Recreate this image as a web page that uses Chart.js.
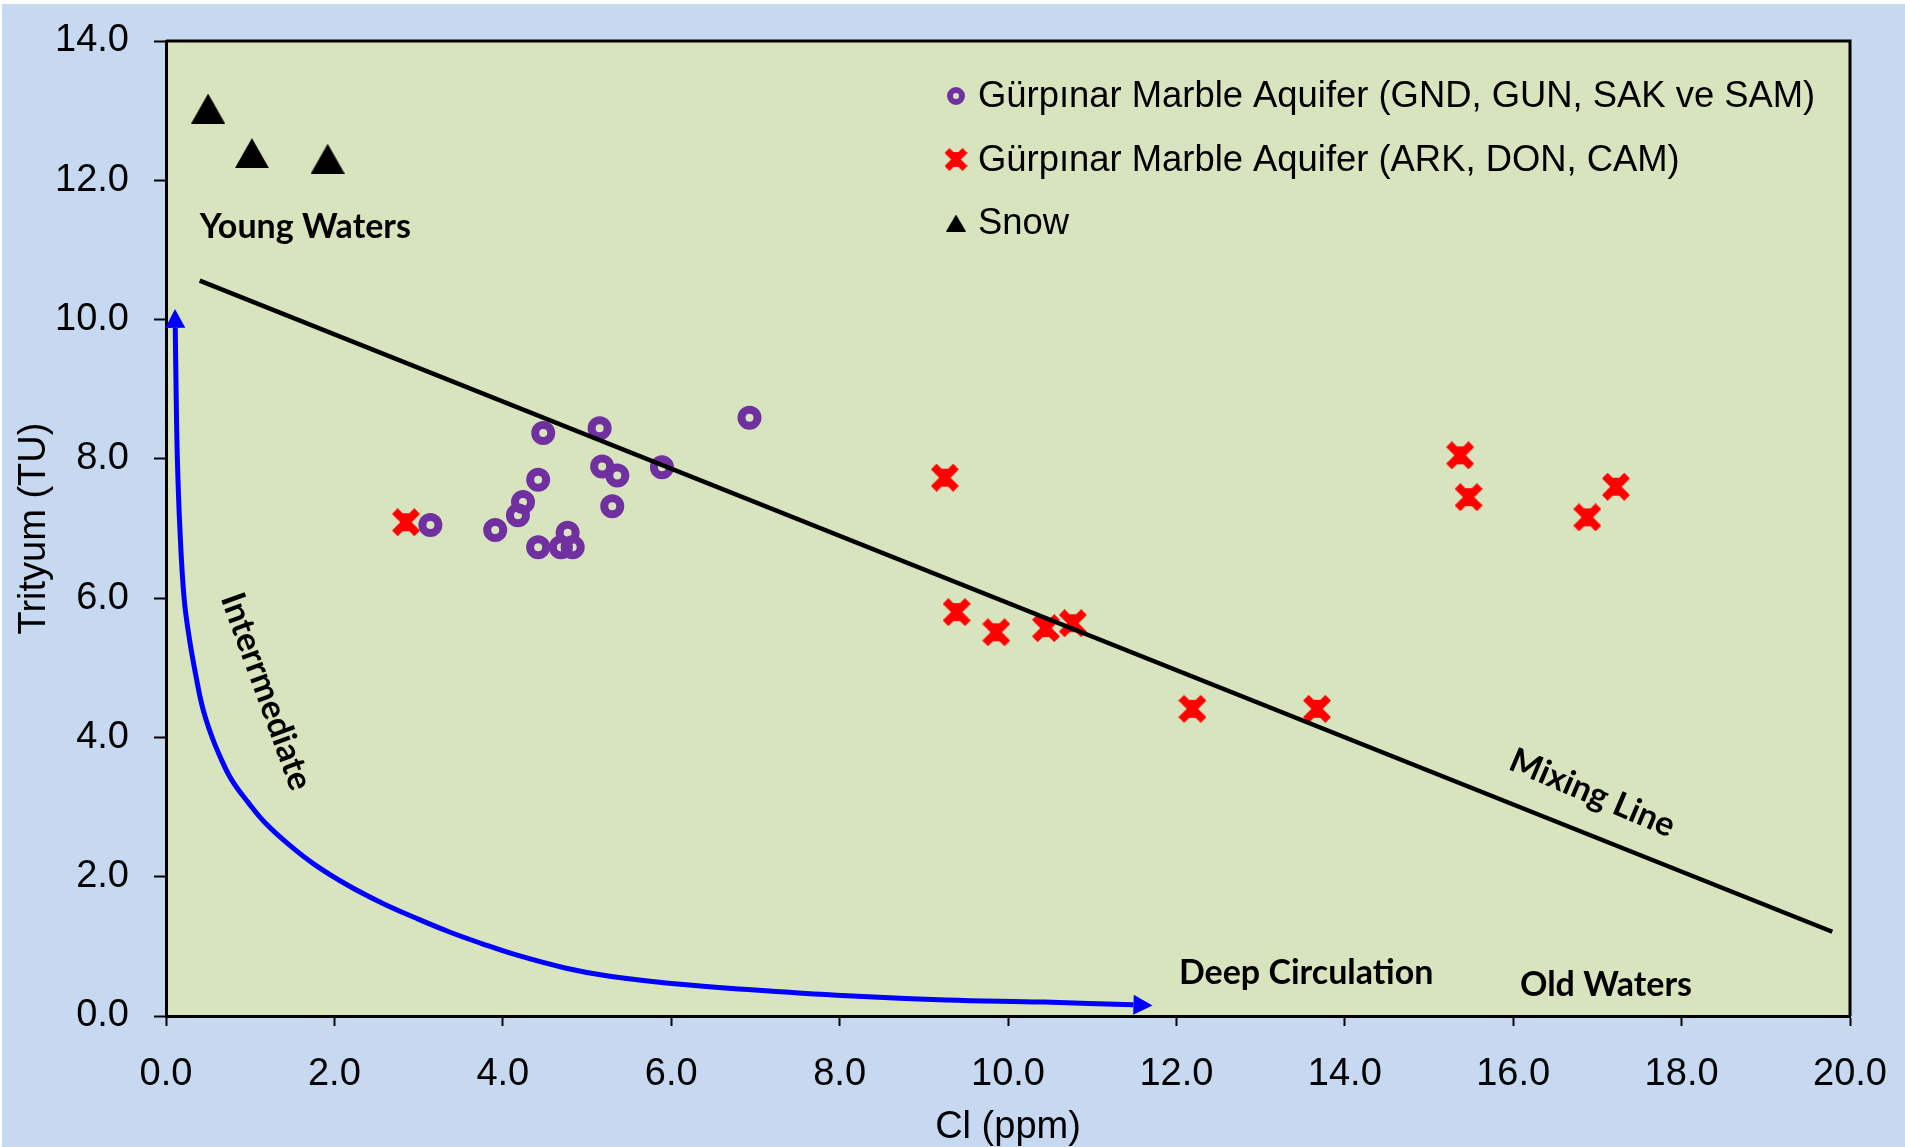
<!DOCTYPE html>
<html>
<head>
<meta charset="utf-8">
<script src="https://cdn.jsdelivr.net/npm/chart.js@4.4.0/dist/chart.umd.min.js"></script>
<style>
  html,body{margin:0;padding:0;background:#fff;overflow:hidden;}
  #wrap{width:1905px;height:1147px;}
  canvas{display:block;}
</style>
</head>
<body>
<div id="wrap"><canvas id="chart" width="1905" height="1147"></canvas></div>
<script>
// values (Cl ppm / Tritium TU)
const gndCl  = [3.14, 3.91, 4.42, 4.18, 4.24, 4.42, 4.48, 4.77, 4.69, 4.83, 5.15, 5.18, 5.36, 5.30, 5.89, 6.93];
const gndTU  = [7.05, 6.98, 6.73, 7.19, 7.38, 7.70, 8.37, 6.94, 6.73, 6.73, 8.44, 7.89, 7.76, 7.32, 7.88, 8.59];
const arkCl  = [2.85, 9.25, 15.37, 15.47, 17.22, 16.88, 9.39, 9.86, 10.45, 10.77, 12.19, 13.67];
const arkTU  = [7.09, 7.73, 8.05, 7.45, 7.60, 7.16, 5.80, 5.51, 5.57, 5.64, 4.41, 4.41];
const snowCl = [0.50, 1.02, 1.92];
const snowTU = [13.03, 12.39, 12.31];
const mixCl  = [0.40, 19.79];
const mixTU  = [10.56, 1.21];
// hand-drawn flow curve (Intermediate -> Deep Circulation)
const curveCl = [0.11, 0.12, 0.135, 0.165, 0.215, 0.28, 0.35, 0.43, 0.53, 0.64, 0.78, 0.98, 1.18, 1.46,
                 1.77, 2.17, 2.57, 2.96, 3.36, 3.75, 4.15, 4.74, 5.27, 5.97, 6.91, 8.09, 9.26, 10.43, 11.49];
const curveTU = [9.88, 8.99, 8.00, 7.00, 6.00, 5.40, 4.92, 4.45, 4.06, 3.73, 3.39, 3.06, 2.77, 2.46,
                 2.17, 1.87, 1.62, 1.41, 1.21, 1.04, 0.88, 0.69, 0.57, 0.47, 0.38, 0.29, 0.23, 0.20, 0.16];
const legendLabels = ['Gürpınar Marble Aquifer (GND, GUN, SAK ve SAM)', 'Gürpınar Marble Aquifer (ARK, DON, CAM)', 'Snow'];
const xTicks = [0, 2, 4, 6, 8, 10, 12, 14, 16, 18, 20];
const yTicks = [0, 2, 4, 6, 8, 10, 12, 14];

// text notes placed in data units
const noteText  = ['Young Waters', 'Deep Circulation', 'Old Waters', 'Mixing Line', 'Interrmediate'];
const noteCl    = [0.40, 12.03, 16.08, 16.94, 1.19];
const noteTU    = [11.33, 0.62, 0.45, 3.20, 4.66];
const noteAngle = [0, 0, 0, 23, 70];
const noteAlign = ['left', 'left', 'left', 'center', 'center'];

const PURPLE = '#7030A0', RED = '#FF0000', BLUE = '#0000FF';
const AXIS_FONT = "'Liberation Sans', Arial, sans-serif";

function pts(xs, ys){ return xs.map((x,i)=>({x:x, y:ys[i]})); }

function makeCross(s, lw){
  const c = document.createElement('canvas'); c.width = s; c.height = s;
  const g = c.getContext('2d');
  const m = lw*0.36;
  g.strokeStyle = RED; g.lineWidth = lw;
  g.beginPath(); g.moveTo(m,m); g.lineTo(s-m,s-m); g.moveTo(s-m,m); g.lineTo(m,s-m); g.stroke();
  g.fillStyle = RED; g.fillRect(s/2-lw/2, s*0.18, lw, s*0.64);
  return c;
}
function makeTri(w, h){
  const c = document.createElement('canvas'); c.width = w; c.height = h;
  const g = c.getContext('2d');
  g.fillStyle = '#000';
  g.beginPath(); g.moveTo(w/2,0); g.lineTo(w,h); g.lineTo(0,h); g.closePath(); g.fill();
  return c;
}
const crossBig = makeCross(28, 8), crossSmall = makeCross(23, 7);
const triBig = makeTri(34, 30), triSmall = makeTri(20, 17);

const bgPlugin = {
  id: 'bg',
  beforeDraw(chart){
    const {ctx, chartArea:a} = chart;
    ctx.save();
    ctx.fillStyle = '#C6D9F1';
    ctx.fillRect(2, 4, chart.width-2, chart.height-4);
    ctx.fillStyle = '#D7E4BD';
    ctx.fillRect(a.left, a.top, a.right-a.left, a.bottom-a.top);
    ctx.restore();
  },
  beforeDatasetsDraw(chart){
    const {ctx, chartArea:a} = chart;
    ctx.save();
    ctx.strokeStyle = '#000'; ctx.lineWidth = 3;
    ctx.beginPath();
    ctx.moveTo(a.left, a.top); ctx.lineTo(a.right, a.top); ctx.lineTo(a.right, a.bottom);
    ctx.stroke();
    ctx.restore();
  }
};

function arrowHead(ctx, tipFrom, from, len, half){
  const dx = tipFrom.x - from.x, dy = tipFrom.y - from.y;
  const d = Math.hypot(dx, dy); const ux = dx/d, uy = dy/d;
  const tx = tipFrom.x + ux*len, ty = tipFrom.y + uy*len;
  ctx.beginPath();
  ctx.moveTo(tx, ty);
  ctx.lineTo(tipFrom.x - uy*half, tipFrom.y + ux*half);
  ctx.lineTo(tipFrom.x + uy*half, tipFrom.y - ux*half);
  ctx.closePath(); ctx.fill();
}

const notesPlugin = {
  id: 'notes',
  afterDatasetsDraw(chart){
    const {ctx} = chart;
    const xs = chart.scales.x, ys = chart.scales.y;
    // arrow heads on the blue curve
    const meta = chart.getDatasetMeta(4).data;
    ctx.save();
    ctx.fillStyle = BLUE;
    arrowHead(ctx, meta[0], meta[1], 19, 10);
    arrowHead(ctx, meta[meta.length-1], meta[meta.length-2], 19, 10);
    ctx.restore();

    ctx.save();
    ctx.fillStyle = '#000';
    ctx.font = "bold 34px Lato, 'Open Sans', sans-serif";
    ctx.textBaseline = 'middle';
    noteText.forEach((t,i)=>{
      ctx.save();
      ctx.translate(xs.getPixelForValue(noteCl[i]), ys.getPixelForValue(noteTU[i]));
      ctx.rotate(noteAngle[i]*Math.PI/180);
      ctx.textAlign = noteAlign[i];
      ctx.fillText(t, 0, 0);
      ctx.restore();
    });
    ctx.restore();
  },
  afterDraw(chart){
    // legend, inside the plot at the top right
    const {ctx} = chart;
    const x0 = 956, y0 = 96, step = 63.5;
    ctx.save();
    ctx.font = '36.4px ' + AXIS_FONT;
    ctx.fillStyle = '#000'; ctx.textBaseline = 'middle'; ctx.textAlign = 'left';
    legendLabels.forEach((lab,i)=>{
      const y = y0 + i*step;
      if(i===0){
        ctx.beginPath(); ctx.arc(x0, y, 6, 0, Math.PI*2);
        ctx.strokeStyle = PURPLE; ctx.lineWidth = 6; ctx.stroke();
      } else if(i===1){
        ctx.drawImage(crossSmall, x0-crossSmall.width/2, y-crossSmall.height/2);
      } else {
        ctx.drawImage(triSmall, x0-triSmall.width/2, y-triSmall.height/2);
      }
      ctx.fillText(lab, x0+22, y+1);
    });
    ctx.restore();
  }
};

new Chart(document.getElementById('chart'), {
  type: 'scatter',
  data: {
    datasets: [
      { label: 'Mixing Line', type: 'line', data: pts(mixCl, mixTU), borderColor: '#000', borderWidth: 4.5, pointRadius: 0, fill: false },
      { label: legendLabels[0], data: pts(gndCl, gndTU), pointStyle: 'circle', pointRadius: 8, pointBorderWidth: 8,
        pointBorderColor: PURPLE, pointBackgroundColor: 'rgba(0,0,0,0)', borderColor: PURPLE },
      { label: legendLabels[1], data: pts(arkCl, arkTU), pointStyle: crossBig, pointRadius: 14 },
      { label: legendLabels[2], data: pts(snowCl, snowTU), pointStyle: triBig, pointRadius: 17 },
      { label: 'curve', type: 'line', data: pts(curveCl, curveTU), borderColor: BLUE, borderWidth: 5, pointRadius: 0,
        tension: 0.4, fill: false, borderCapStyle: 'butt' }
    ]
  },
  options: {
    responsive: false,
    animation: false,
    events: [],
    layout: { padding: { top: 41, right: 55, left: 0, bottom: 0 } },
    plugins: { legend: { display: false }, tooltip: { enabled: false } },
    scales: {
      x: {
        type: 'linear', min: 0, max: 20,
        afterBuildTicks: s => { s.ticks = xTicks.map(v=>({value:v})); },
        afterFit: s => { s.height = 131; s.paddingLeft = 0; s.paddingRight = 0; },
        ticks: { callback: v => v.toFixed(1), color: '#000', padding: 26, maxRotation: 0, autoSkip: false,
                 font: { family: AXIS_FONT, size: 38 } },
        grid: { drawOnChartArea: false, drawTicks: true, tickLength: 10, tickColor: '#000', tickWidth: 2 },
        border: { display: true, color: '#000', width: 3 },
        title: { display: true, text: 'Cl (ppm)', color: '#000', padding: { top: 0, bottom: -3 },
                 font: { family: AXIS_FONT, size: 38 } }
      },
      y: {
        type: 'linear', min: 0, max: 14,
        afterBuildTicks: s => { s.ticks = yTicks.map(v=>({value:v})); },
        afterFit: s => { s.width = 166; s.paddingTop = 0; s.paddingBottom = 0; },
        ticks: { callback: v => v.toFixed(1), color: '#000', padding: 25, autoSkip: false,
                 font: { family: AXIS_FONT, size: 38 } },
        grid: { drawOnChartArea: false, drawTicks: true, tickLength: 12, tickColor: '#000', tickWidth: 2 },
        border: { display: true, color: '#000', width: 3 },
        title: { display: true, text: 'Trityum (TU)', color: '#000', padding: { top: 12, bottom: 0 },
                 font: { family: AXIS_FONT, size: 38 } }
      }
    }
  },
  plugins: [bgPlugin, notesPlugin]
});
</script>
</body>
</html>
